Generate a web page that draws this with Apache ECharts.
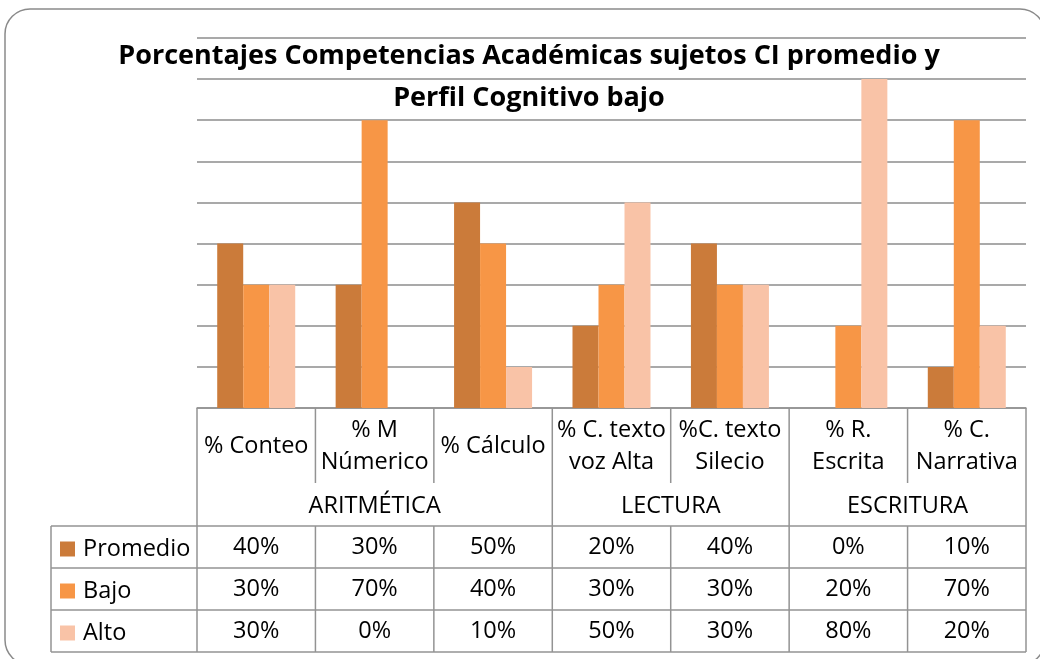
<!DOCTYPE html>
<html>
<head>
<meta charset="utf-8">
<script src="https://cdn.jsdelivr.net/npm/echarts@6/dist/echarts.min.js"></script>
<style>
  html, body { margin: 0; padding: 0; background: #fff; }
  #chart { width: 1040px; height: 659px; }
</style>
</head>
<body>
<div id="chart"></div>
<script>
// Chart data
const titleText = 'Porcentajes Competencias Académicas sujetos CI promedio y\nPerfil Cognitivo bajo';
const categories = ['% Conteo', '% M\nNúmerico', '% Cálculo', '% C. texto\nvoz Alta', '%C. texto\nSilecio', '% R.\nEscrita', '% C.\nNarrativa'];
const groupNames = ['ARITMÉTICA', 'LECTURA', 'ESCRITURA'];
const groupSpans = [3, 2, 2];
const seriesNames = ['Promedio', 'Bajo', 'Alto'];
const promedio = [40, 30, 50, 20, 40, 0, 10];
const bajo = [30, 70, 40, 30, 30, 20, 70];
const alto = [30, 0, 10, 50, 30, 80, 20];

const seriesValues = [promedio, bajo, alto];
const colors = ['#CB7B3A', '#F79646', '#F9C3A7'];
const FONT = 'Open Sans';
const FS = 23.5;
const LINE = '#939393';
const TEXT = '#000';

const chart = echarts.init(document.getElementById('chart'), null, { renderer: 'canvas' });

chart.setOption({
  animation: false,
  backgroundColor: '#fff',
  color: colors,
  title: {
    text: titleText,
    left: 529,
    top: 35,
    textAlign: 'center',
    padding: 0,
    textStyle: { fontFamily: FONT, fontWeight: 'bold', fontSize: 27, lineHeight: 42, color: TEXT }
  },
  grid: { left: 197, right: 14, top: 38, bottom: 251, containLabel: false },
  xAxis: {
    type: 'category',
    data: categories,
    axisLine: { show: true, lineStyle: { color: LINE, width: 1.5 } },
    axisTick: { show: false },
    axisLabel: {
      interval: 0,
      margin: 38,
      verticalAlign: 'middle',
      fontFamily: FONT,
      fontSize: FS,
      lineHeight: 32,
      color: TEXT
    }
  },
  yAxis: {
    type: 'value',
    min: 0,
    max: 90,
    interval: 10,
    axisLine: { show: false },
    axisTick: { show: false },
    axisLabel: { show: false },
    splitLine: { show: true, lineStyle: { color: '#8c8c8c', width: 1.5 } }
  },
  series: seriesNames.map((name, i) => ({
    name,
    type: 'bar',
    data: seriesValues[i],
    barWidth: 26,
    barGap: '0%',
    itemStyle: { color: colors[i] }
  }))
});

// Data table under the plot, laid out on the category axis positions
function drawTable() {
  const xs = categories.map((_, i) => chart.convertToPixel({ xAxisIndex: 0 }, i));
  const catW = xs[1] - xs[0];
  const edges = xs.map(x => x - catW / 2).concat([xs[xs.length - 1] + catW / 2]);
  const yTop = chart.convertToPixel({ yAxisIndex: 0 }, 0);
  const catRowBottom = yTop + 75;
  const groupRowBottom = yTop + 118;
  const rowH = 42;
  const tableBottom = groupRowBottom + rowH * seriesNames.length;
  const legendLeft = 51;
  const elements = [];

  const line = (x1, y1, x2, y2) => elements.push({
    type: 'line', silent: true,
    shape: { x1, y1, x2, y2 },
    style: { stroke: LINE, lineWidth: 1.5 }
  });
  const text = (x, y, str) => elements.push({
    type: 'text', silent: true,
    style: { x, y, text: str, align: 'center', verticalAlign: 'middle', fill: TEXT, font: FS + 'px "' + FONT + '"' }
  });

  // Group boundaries
  const groupEdges = [0];
  groupSpans.forEach(s => groupEdges.push(groupEdges[groupEdges.length - 1] + s));

  // Vertical lines
  edges.forEach((x, i) => {
    if (groupEdges.includes(i)) {
      line(x, yTop, x, tableBottom);
    } else {
      line(x, yTop, x, catRowBottom);
      line(x, groupRowBottom, x, tableBottom);
    }
  });
  line(legendLeft, groupRowBottom, legendLeft, tableBottom);

  // Horizontal lines
  for (let r = 0; r <= seriesNames.length; r++) {
    const y = groupRowBottom + r * rowH;
    line(legendLeft, y, edges[edges.length - 1], y);
  }

  // Group labels
  groupNames.forEach((g, gi) => {
    const x = (edges[groupEdges[gi]] + edges[groupEdges[gi + 1]]) / 2;
    text(x, (catRowBottom + groupRowBottom) / 2 + 1.5, g);
  });

  // Values
  seriesValues.forEach((vals, r) => {
    const y = groupRowBottom + r * rowH + rowH / 2 + 0.5;
    vals.forEach((v, i) => text(xs[i], y, v + '%'));
  });

  // Outer rounded frame
  elements.push({
    type: 'rect', silent: true,
    shape: { x: 5, y: 9, width: 1040, height: 656, r: 25 },
    style: { fill: 'none', stroke: '#8a8a8a', lineWidth: 1.5 }
  });

  chart.setOption({
    graphic: { elements },
    legend: seriesNames.map((name, r) => ({
      data: [name],
      orient: 'vertical',
      left: 60,
      top: groupRowBottom + r * rowH + rowH / 2 - 10,
      padding: 0,
      itemWidth: 15,
      itemHeight: 15,
      icon: 'rect',
      selectedMode: false,
      textStyle: { fontFamily: FONT, fontSize: FS, color: TEXT, padding: [0, 0, 0, 3] }
    }))
  });
}

drawTable();
</script>
</body>
</html>
